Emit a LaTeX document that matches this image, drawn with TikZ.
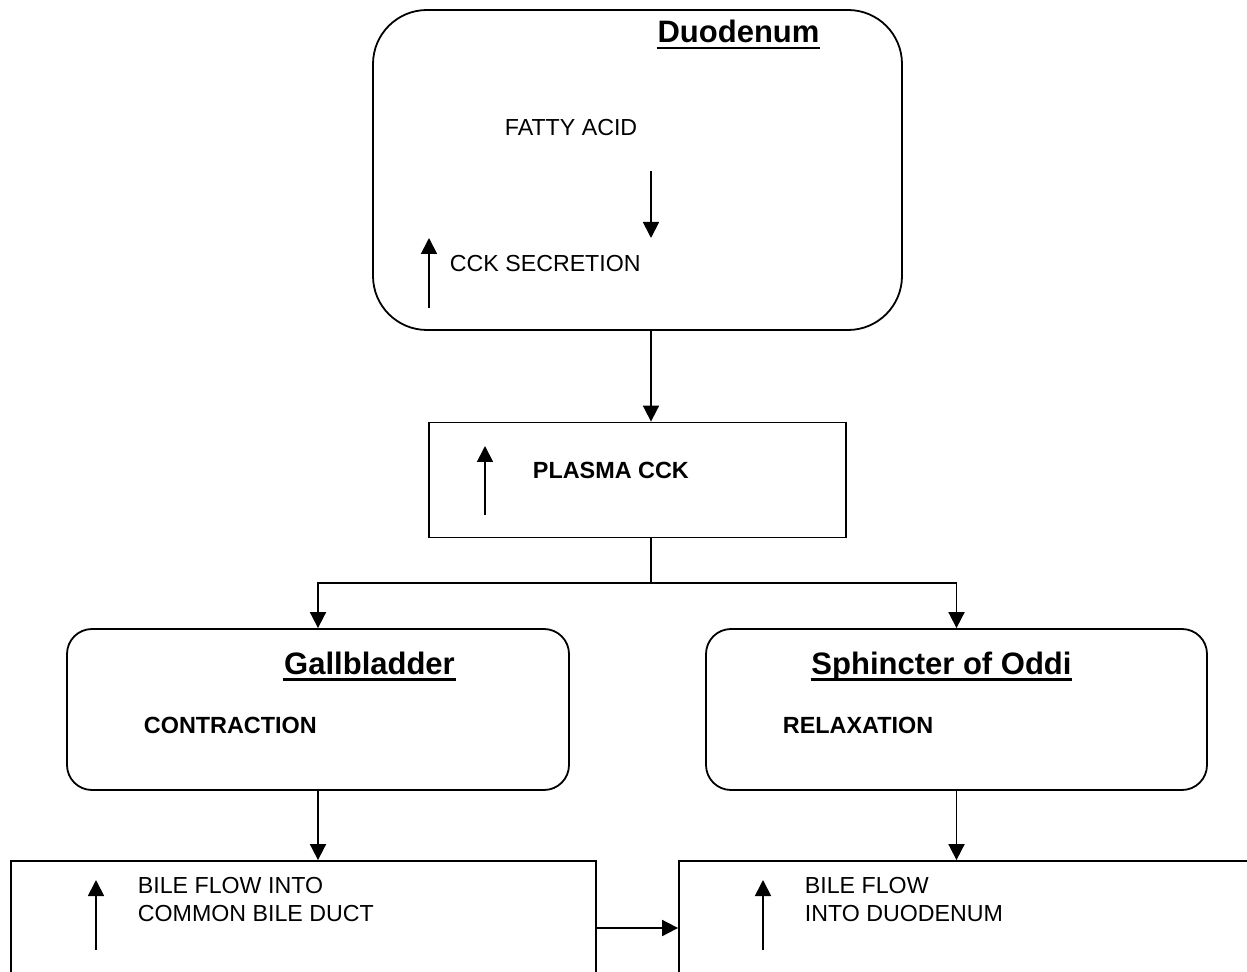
\documentclass[tikz,border=0pt]{standalone}
\usepackage{fontspec}
\setmainfont{Liberation Sans}
\usetikzlibrary{arrows.meta}
\begin{document}
\begin{tikzpicture}[x=0.5pt,y=-0.5pt,line width=0.9pt,
  arr/.style={-{Triangle[length=8pt,width=8pt]}},
  box/.style={draw,line width=0.9pt,inner sep=0pt},
  txt/.style={inner sep=0pt,anchor=base west,font=\fontsize{11.6}{14}\selectfont},
  btxt/.style={inner sep=0pt,anchor=base west,font=\fontsize{11.7}{14}\selectfont\bfseries},
  ttl/.style={inner sep=0pt,anchor=base,font=\fontsize{15.5}{18}\selectfont\bfseries}]
\useasboundingbox (0,0) rectangle (1247,972);
\clip (0,0) rectangle (1247,972);
% boxes
\node[box,rounded corners=27pt,minimum width=264.5pt,minimum height=160pt] (duo) at (637.5,170) {};
\node[box,minimum width=208.5pt,minimum height=57.5pt] (plasma) at (637.5,480) {};
\node[box,rounded corners=12.5pt,minimum width=251pt,minimum height=80.5pt] (gall) at (318,709.5) {};
\node[box,rounded corners=12.5pt,minimum width=250.5pt,minimum height=80.5pt] (sph) at (956.5,709.5) {};
\node[box,minimum width=292.5pt,minimum height=67pt] (bl) at (303.5,928) {};
\node[box,minimum width=310.5pt,minimum height=67pt] (br) at (989.5,928) {};
% titles
\node[ttl] (tduo) at (738.5,43) {Duodenum};
\node[ttl] (tgall) at (369.5,674) {Gallbladder};
\node[ttl] (tsph) at (941.5,674) {Sphincter of Oddi};
\foreach \t in {tduo,tgall,tsph}{
  \draw[line width=1.3pt] ([yshift=-2.6pt]\t.base west) -- ([yshift=-2.6pt]\t.base east);
}
% texts
\node[txt] (fatty) at (504,136) {FATTY ACID};
\node[txt] (cck) at (449,272) {CCK SECRETION};
\node[btxt] (pcck) at (532,479) {PLASMA CCK};
\node[btxt] (contr) at (143,733) {CONTRACTION};
\node[btxt] (relax) at (782,733) {RELAXATION};
\node[txt] (bl1) at (137,893) {BILE FLOW INTO};
\node[txt] (bl2) at (137,921) {COMMON BILE DUCT};
\node[txt] (br1) at (804,893) {BILE FLOW};
\node[txt] (br2) at (804,921) {INTO DUODENUM};
% small indicator arrows inside boxes
\coordinate (fa1) at (651,171); \coordinate (fa2) at (651,238);
\draw[arr] (fa1) -- (fa2);
\coordinate (ua1) at (429,308); \coordinate (ua2) at (429,238);
\draw[arr] (ua1) -- (ua2);
\coordinate (pa1) at (485,515); \coordinate (pa2) at (485,446);
\draw[arr] (pa1) -- (pa2);
\coordinate (la1) at (96,950); \coordinate (la2) at (96,880);
\draw[arr] (la1) -- (la2);
\coordinate (ra1) at (763,950); \coordinate (ra2) at (763,880);
\draw[arr] (ra1) -- (ra2);
% connectors
\coordinate (j) at (651,583);
\draw[arr] (duo.south -| j) -- (plasma.north -| j);
\draw (plasma.south -| j) -- (j);
\draw[arr] (j) -| (gall.north);
\draw[arr] (j) -| (sph.north);
\draw[arr] (gall.south) -- (gall.south |- bl.north);
\draw[arr] (sph.south) -- (sph.south |- br.north);
\draw[arr] (bl.east) -- (br.west);
\end{tikzpicture}
\end{document}
